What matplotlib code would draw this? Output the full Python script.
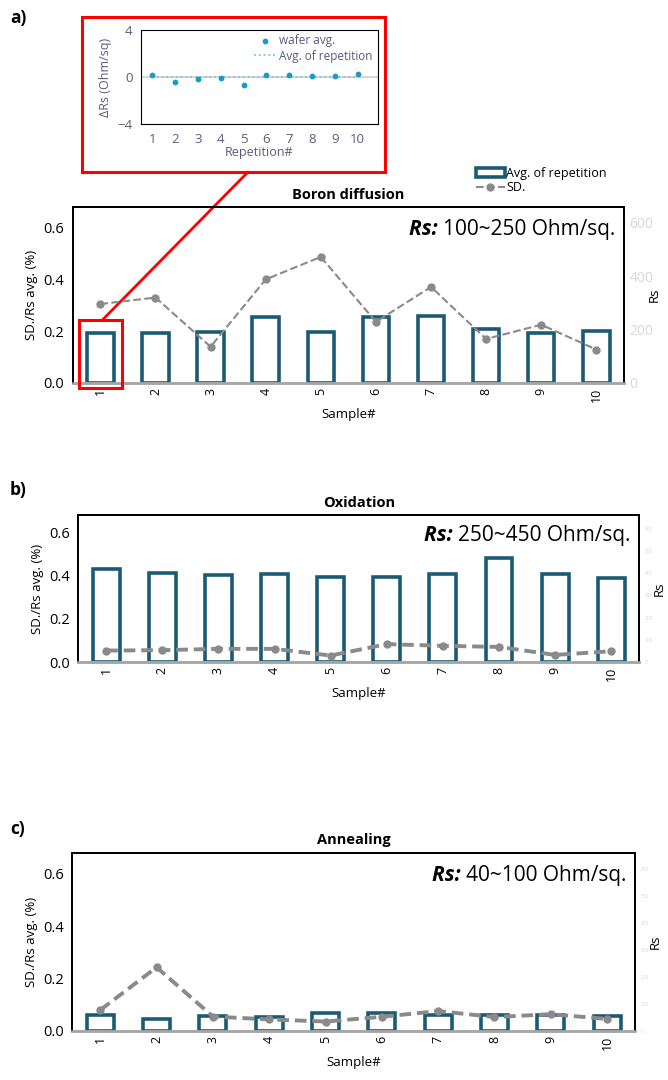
import matplotlib
matplotlib.use('Agg')
import matplotlib.pyplot as plt
from matplotlib.patches import Rectangle, Patch
from matplotlib.lines import Line2D
from matplotlib.patches import ConnectionPatch

plt.rcParams['font.family'] = ['Open Sans', 'DejaVu Sans']

# data
samples = [1, 2, 3, 4, 5, 6, 7, 8, 9, 10]
sample_labels = [str(s) for s in samples]

boron_rs = [189, 186, 192, 249, 190, 248, 251, 203, 189, 196]
boron_sd = [0.305, 0.33, 0.14, 0.40, 0.487, 0.236, 0.371, 0.17, 0.225, 0.129]

oxid_rs = [416, 399, 393, 396, 384, 380, 396, 467, 396, 377]
oxid_sd = [0.053, 0.055, 0.061, 0.061, 0.03, 0.083, 0.075, 0.07, 0.033, 0.05]

anneal_rs = [59, 43, 56, 53, 67, 66, 58, 59, 59, 56]
anneal_sd = [0.08, 0.243, 0.055, 0.044, 0.036, 0.054, 0.076, 0.053, 0.064, 0.046]

repetition = [1, 2, 3, 4, 5, 6, 7, 8, 9, 10]
delta_rs = [0.15, -0.43, -0.14, -0.03, -0.7, 0.17, 0.17, 0.08, 0.08, 0.3]

bar_col = '#1b5a74'
sd_col = '#8a8a8a'
inset_txt = '#5b5b7b'

fig = plt.figure(figsize=(6.68, 10.8), dpi=100)


def panel(rect, title, rs, sd, rs_text, right_ticks, right_fs, sd_lw, rs_pad):
    ax = fig.add_axes(rect)
    ax2 = ax.twinx()
    ax2.bar(samples, rs, width=0.48, facecolor='white', edgecolor=bar_col, linewidth=2.6)
    ax2.set_ylim(0, 660)
    ax2.set_yticks(right_ticks)
    ax2.tick_params(axis='y', length=0, labelsize=right_fs, labelcolor='#d8d8d8', pad=4)
    ax2.set_ylabel('Rs', fontsize=9.5, labelpad=rs_pad)

    ax.set_zorder(ax2.get_zorder() + 1)
    ax.patch.set_visible(False)
    if sd_lw > 2:
        ax.plot(samples, sd, color=sd_col, linestyle=(0, (3, 1.5)), linewidth=sd_lw,
                marker='o', markersize=5)
    else:
        ax.plot(samples, sd, color=sd_col, linestyle='--', linewidth=sd_lw,
                marker='o', markersize=5)
    ax.set_ylim(0, 0.68)
    ax.set_xlim(0.5, 10.5)
    ax.set_yticks([0, 0.2, 0.4, 0.6])
    ax.set_yticklabels(['0.0', '0.2', '0.4', '0.6'])
    ax.set_xticks(samples)
    ax.set_xticklabels(sample_labels, rotation=90, fontsize=9)
    ax.tick_params(axis='both', length=0)
    ax.tick_params(axis='y', labelsize=10.5, pad=6)
    ax.set_ylabel('SD./Rs avg. (%)', fontsize=9.5)
    ax.set_xlabel('Sample#', fontsize=9.5)
    ax.set_title(title, fontsize=10.5, fontweight='bold', pad=6)
    for a in (ax, ax2):
        for s in ('top', 'left', 'right'):
            a.spines[s].set_linewidth(1.3)
            a.spines[s].set_color('black')
        a.spines['bottom'].set_color('#a6a6a6')
        a.spines['bottom'].set_linewidth(1.8)
    t = ax.text(0.985, 0.93, rs_text, transform=ax.transAxes, ha='right', va='top',
                fontsize=15)
    ax.annotate('Rs: ', xy=(0, 0), xycoords=t, ha='right', va='bottom',
                fontsize=15, fontweight='bold', fontstyle='italic')
    return ax, ax2


ax_a, ax_a2 = panel([0.109, 0.6454, 0.825, 0.163], 'Boron diffusion', boron_rs, boron_sd,
                    '100~250 Ohm/sq.', [0, 200, 400, 600], 10, 1.5, -4)
ax_b, ax_b2 = panel([0.117, 0.387, 0.840, 0.136], 'Oxidation', oxid_rs, oxid_sd,
                    '250~450 Ohm/sq.', [0, 100, 200, 300, 400, 500, 600], 3.5, 2.8, 0)
ax_c, ax_c2 = panel([0.108, 0.0454, 0.843, 0.165], 'Annealing', anneal_rs, anneal_sd,
                    '40~100 Ohm/sq.', [0, 100, 200, 300, 400, 500, 600], 3.5, 2.8, 0)

# legend for panel a
handles = [Patch(facecolor='white', edgecolor=bar_col, linewidth=2.6, label='Avg. of repetition'),
           Line2D([], [], color=sd_col, linestyle='--', linewidth=1.5, marker='o',
                  markersize=5, label='SD.')]
fig.legend(handles=handles, loc='upper left', bbox_to_anchor=(0.705, 0.85),
           frameon=False, fontsize=9, handlelength=2.3, handletextpad=0.1,
           labelspacing=0.1, borderaxespad=0)

# inset
ins = fig.add_axes([0.211, 0.885, 0.355, 0.087])
ins.axhline(0, color='#d0d0d0', linewidth=1.2)
ins.plot(repetition, [0] * len(repetition), color='#7fbfe0', linestyle=':', linewidth=1.3,
         label='Avg. of repetition')
ins.scatter(repetition, delta_rs, s=10, color='#1a9bc7', zorder=3, label='wafer avg.')
ins.set_xlim(0.5, 10.9)
ins.set_ylim(-4, 4)
ins.set_yticks([-4, 0, 4])
ins.set_xticks(repetition)
ins.tick_params(length=0, labelsize=9.5, labelcolor=inset_txt, pad=6)
ins.set_ylabel('ΔRs (Ohm/sq)', fontsize=9, color=inset_txt, labelpad=4)
ins.set_xlabel('Repetition#', fontsize=9, color=inset_txt, labelpad=0)
h, l = ins.get_legend_handles_labels()
ins.legend(h[::-1], l[::-1], loc='upper right', frameon=False, fontsize=8.5,
           labelcolor=inset_txt, handlelength=1.8, handletextpad=0.3,
           labelspacing=0.2, borderaxespad=0.1, bbox_to_anchor=(1.0, 1.02))

# red call-out boxes
fig.add_artist(Rectangle((82 / 668, 1 - 172 / 1080), 303 / 668, 155 / 1080,
                         transform=fig.transFigure, fill=False, edgecolor='red',
                         linewidth=2.2))
ax_a.add_patch(Rectangle((0.61, -0.02), 0.78, 0.264, fill=False, edgecolor='red',
                         linewidth=2.2, clip_on=False, zorder=10))
con = ConnectionPatch(xyA=(1.04, 0.244), coordsA=ax_a.transData,
                      xyB=(248 / 668, 1 - 172 / 1080), coordsB=fig.transFigure,
                      color='red', linewidth=2)
fig.add_artist(con)

# panel letters
for lab, y in (('a)', 0.983), ('b)', 0.546), ('c)', 0.232)):
    fig.text(0.015, y, lab, fontsize=12.5, fontweight='bold', va='center')

fig.savefig('out.png', dpi=100)
